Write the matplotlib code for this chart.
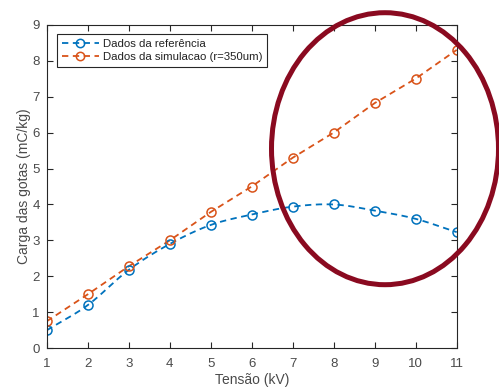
import numpy as np
import matplotlib.pyplot as plt
from matplotlib.patches import Ellipse

plt.rcParams['font.family'] = ['Liberation Sans', 'DejaVu Sans']

tensao = [1, 2, 3, 4, 5, 6, 7, 8, 9, 10, 11]
carga_ref = [0.5, 1.2, 2.18, 2.9, 3.43, 3.72, 3.94, 4.0, 3.83, 3.6, 3.23]
carga_sim = [0.75, 1.5, 2.28, 3.0, 3.79, 4.5, 5.3, 6.0, 6.82, 7.5, 8.3]

blue = '#0072BD'
orange = '#D95319'
axcol = '#262626'
txtcol = '#4a4a4a'


def smooth(x, y, n=20):
    # catmull-rom curve through the points, only for drawing the line
    x = np.asarray(x, float)
    y = np.asarray(y, float)
    px = np.concatenate([[2 * x[0] - x[1]], x, [2 * x[-1] - x[-2]]])
    py = np.concatenate([[2 * y[0] - y[1]], y, [2 * y[-1] - y[-2]]])
    xs, ys = [], []
    t = np.linspace(0, 1, n, endpoint=False)
    for i in range(1, len(px) - 2):
        for p, out in ((px, xs), (py, ys)):
            p0, p1, p2, p3 = p[i - 1], p[i], p[i + 1], p[i + 2]
            out.extend(0.5 * (2 * p1 + (-p0 + p2) * t
                              + (2 * p0 - 5 * p1 + 4 * p2 - p3) * t ** 2
                              + (-p0 + 3 * p1 - 3 * p2 + p3) * t ** 3))
    xs.append(x[-1])
    ys.append(y[-1])
    return xs, ys


fig = plt.figure(figsize=(4.99, 3.87), dpi=100)
ax = fig.add_axes([46.7 / 499, 1 - 348.3 / 387, 410 / 499, 323.6 / 387])

sx, sy = smooth(tensao, carga_ref)
ax.plot(sx, sy, '--', color=blue, lw=1.3, dashes=(3.5, 2.5))
ax.plot(tensao, carga_sim, '--', color=orange, lw=1.3, dashes=(3.5, 2.5))
ax.plot(tensao, carga_ref, 'o', color=blue, mfc='none', ms=6.5, mew=1.1)
ax.plot(tensao, carga_sim, 'o', color=orange, mfc='none', ms=6.5, mew=1.1)

h1, = ax.plot([], [], '--o', color=blue, mfc='none', ms=6, mew=1.1, lw=1.3, dashes=(3.5, 2.5))
h2, = ax.plot([], [], '--o', color=orange, mfc='none', ms=6, mew=1.1, lw=1.3, dashes=(3.5, 2.5))
leg = ax.legend([h1, h2], ['Dados da referência', 'Dados da simulacao (r=350um)'],
                loc='upper left', bbox_to_anchor=(0.025, 0.97), fontsize=8.2,
                fancybox=False, framealpha=1, handlelength=3.3, handletextpad=0.3,
                borderpad=0.4, labelspacing=0.3, borderaxespad=0)
leg.get_frame().set_edgecolor(axcol)
leg.get_frame().set_linewidth(0.8)
for t in leg.get_texts():
    t.set_color('#222222')

ax.set_xlim(1, 11)
ax.set_ylim(0, 9)
ax.set_xticks(range(1, 12))
ax.set_yticks(range(0, 10))
ax.tick_params(direction='in', top=True, right=True, length=4, width=0.8,
               colors=axcol, labelsize=9.5, labelcolor=txtcol)
ax.tick_params(axis='x', pad=7)
ax.tick_params(axis='y', pad=5)
for s in ax.spines.values():
    s.set_color(axcol)
    s.set_linewidth(0.8)
ax.set_xlabel('Tensão (kV)', fontsize=10, color=txtcol, labelpad=2)
ax.set_ylabel('Carga das gotas (mC/kg)', fontsize=10, color=txtcol, labelpad=1)

# hand-drawn highlight ellipse
ell = Ellipse((385 / 499, 1 - 148.7 / 387), 227 / 499, 272 / 387,
              transform=fig.transFigure, fill=False, edgecolor='#8A0A20', lw=3.6,
              clip_on=False, zorder=10)
fig.patches.append(ell)

fig.savefig('out.png', dpi=100)
